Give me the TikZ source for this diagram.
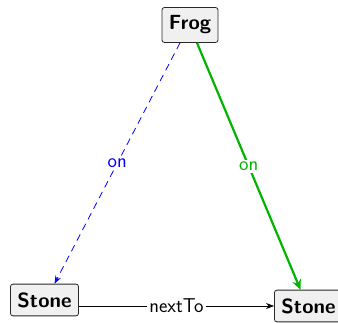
\documentclass[tikz,border=0pt]{standalone}
\usetikzlibrary{arrows.meta}
\definecolor{boxfill}{RGB}{240,240,240}
\definecolor{boxline}{RGB}{40,40,40}
\definecolor{ongreen}{RGB}{0,180,0}
\tikzset{
  obj/.style={draw=boxline, fill=boxfill, rounded corners=2.5pt, line width=0.8pt,
    font=\fontsize{20.5}{24}\selectfont\sffamily\bfseries, inner xsep=7pt, inner ysep=8.3pt},
  rel/.style={font=\fontsize{20}{23}\selectfont\sffamily, fill=white, inner sep=2pt},
}
\begin{document}
\begin{tikzpicture}[x=1pt, y=-1pt]
  \useasboundingbox (0,0) rectangle (338,322);
  \node[obj] (frog) at (190,25) {Frog};
  \node[obj] (ls) at (44.5,300) {Stone};
  \node[obj] (rs) at (308.5,306) {Stone};
  % frog relations
  \draw[blue, line width=0.8pt, dash pattern=on 7pt off 5pt, -{Stealth[length=8pt,width=6pt]}]
    ([xshift=-10pt]frog.south) -- node[rel, text=blue] {on} ([xshift=10pt]ls.north);
  \draw[ongreen, line width=2.2pt, -{Stealth[length=10pt,width=9pt]}]
    ([xshift=7pt]frog.south) -- node[rel, text=ongreen] {on} ([xshift=-8pt]rs.north);
  % stone relation
  \draw[black, line width=0.8pt, -{Stealth[length=8pt,width=6pt]}]
    (ls.east |- rs.west) -- node[rel] {nextTo} (rs.west);
\end{tikzpicture}
\end{document}
